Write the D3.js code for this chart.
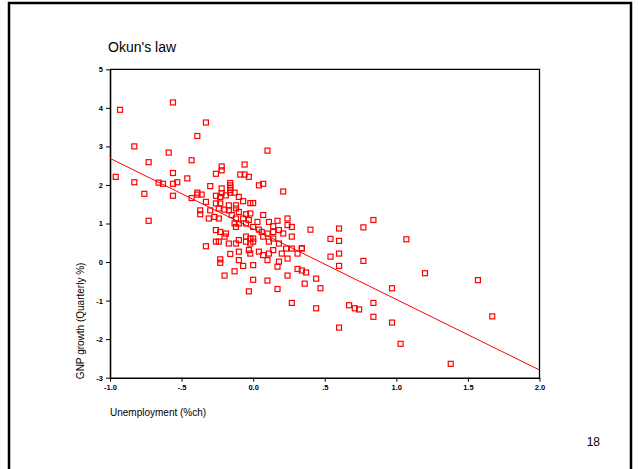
<!DOCTYPE html>
<html>
<head>
<meta charset="utf-8">
<script src="https://cdn.jsdelivr.net/npm/d3@7"></script>
<style>
  html, body { margin: 0; padding: 0; background: #fff; }
  svg { display: block; }
  .tick text { font-family: "Liberation Sans", Arial, sans-serif; font-size: 7.5px; font-weight: bold; fill: #000; }
</style>
</head>
<body>
<svg id="chart" width="639" height="469"></svg>
<script>
// Quarterly change in unemployment (percentage points) vs GNP growth (quarterly %)
const unemploymentChange = [
  -0.93,-0.56,-0.83,-0.59,-0.73,-0.56,-0.96,-0.83,-0.66,-0.63,-0.56,-0.53,-0.76,-0.56,-0.73,-0.46,-0.43,-0.39,-0.33,
  0.10,-0.22,-0.22,-0.06,-0.26,-0.09,-0.06,-0.03,-0.30,-0.16,-0.16,-0.16,-0.16,-0.16,-0.22,-0.22,0.04,0.07,0.21,-0.39,-0.39,-0.36,-0.13,-0.43,-0.23,-0.19,-0.10,-0.26,
  -0.33,-0.26,-0.23,-0.17,-0.12,-0.07,-0.02,0.00,-0.37,-0.37,-0.30,-0.24,-0.20,-0.17,-0.12,-0.10,-0.05,-0.02,0.07,0.24,
  -0.31,-0.27,-0.24,-0.15,-0.12,-0.07,-0.03,0.03,0.11,0.17,0.24,0.27,
  -0.26,-0.23,-0.20,-0.19,-0.13,-0.12,-0.10,-0.05,0.00,0.04,0.06,0.10,0.14,0.14,0.18,0.21,0.27,
  -0.33,-0.26,-0.24,-0.17,-0.12,-0.10,-0.05,-0.02,0.00,-0.05,-0.02,0.00,0.07,0.11,0.14,0.18,0.23,0.27,0.31,0.34,
  -0.16,-0.10,-0.03,-0.02,0.04,0.07,0.11,0.14,0.20,0.24,0.18,
  -0.23,-0.23,-0.10,-0.07,0.00,0.10,0.17,
  -0.20,-0.13,0.00,0.10,-0.03,0.17,0.24,0.31,0.34,0.36,0.27,
  0.84,0.40,0.60,0.77,0.54,0.60,0.60,0.54,0.77,0.60,0.34,0.37,0.44,0.47,0.44,0.67,0.71,0.74,0.84,0.84,0.97,1.07,1.20,1.57,1.67,0.97,1.03,0.60,1.38
];
const gnpGrowth = [
  3.95,4.14,3.00,2.84,2.59,2.31,2.21,2.07,2.06,2.03,2.03,2.07,1.77,1.72,1.07,2.17,2.64,3.27,3.62,
  2.89,2.48,2.38,2.53,2.29,2.27,2.27,2.21,1.97,2.05,1.99,1.93,1.87,1.80,1.91,1.79,1.99,2.03,1.83,1.80,1.75,1.75,1.80,1.66,1.69,1.73,1.69,1.72,
  1.56,1.52,1.52,1.47,1.47,1.58,1.53,1.53,1.34,1.24,1.34,1.39,1.36,1.34,1.39,1.30,1.24,1.26,1.22,1.13,
  1.13,1.17,1.13,1.22,1.13,1.13,1.09,1.04,1.04,1.07,0.96,0.91,
  0.83,0.78,0.66,0.74,1.00,0.91,1.00,1.00,0.91,0.84,0.78,0.74,0.93,0.78,0.83,0.74,0.66,
  0.41,0.53,0.53,0.48,0.48,0.57,0.66,0.61,0.53,0.53,0.48,0.61,0.66,0.53,0.61,0.48,0.35,0.35,0.22,0.35,
  0.21,0.27,0.31,0.22,0.27,0.18,0.22,0.31,0.22,0.09,0.01,
  0.07,-0.02,0.05,-0.10,-0.08,0.05,-0.12,
  -0.35,-0.24,-0.46,-0.48,-0.76,-0.70,-0.35,-0.18,-0.22,-0.56,-1.06,
  1.09,0.84,0.87,0.90,0.60,0.55,0.22,0.14,0.03,-0.10,0.36,-0.27,-0.43,-0.68,-1.20,-1.12,-1.20,-1.23,-1.06,-1.42,-0.68,0.59,-0.29,-0.47,-1.41,-1.57,-2.12,-1.70,-2.64
];

// Fitted regression line, evaluated at the ends of the x range
const fitX = [-1.0, 2.0];
const fitY = [2.69, -2.80];

const xTicks = [-1.0, -0.5, 0.0, 0.5, 1.0, 1.5, 2.0];
const xTickLabels = ["-1.0", "-.5", "0.0", ".5", "1.0", "1.5", "2.0"];
const yTicks = [5, 4, 3, 2, 1, 0, -1, -2, -3];
const yTickLabels = ["5", "4", "3", "2", "1", "0", "-1", "-2", "-3"];

const svg = d3.select("#chart");
const FONT = "'Liberation Sans', Arial, sans-serif";

// slide frame
svg.append("rect")
  .attr("x", 9).attr("y", 3).attr("width", 622).attr("height", 480)
  .attr("fill", "none").attr("stroke", "#000").attr("stroke-width", 2.5);

svg.append("text")
  .attr("x", 108).attr("y", 52)
  .attr("font-family", FONT).attr("font-size", 14)
  .text("Okun's law");

svg.append("text")
  .attr("x", 600).attr("y", 446).attr("text-anchor", "end")
  .attr("font-family", FONT).attr("font-size", 12)
  .text("18");

const x = d3.scaleLinear().domain([-1, 2]).range([110, 539.5]);
const y = d3.scaleLinear().domain([-3, 5]).range([377.7, 69.3]);

// plot box (top and right edges)
svg.append("path")
  .attr("d", `M${x(-1)},${y(5)}H${x(2)}V${y(-3)}`)
  .attr("fill", "none").attr("stroke", "#000").attr("stroke-width", 1.3);

const xAxis = d3.axisBottom(x)
  .tickValues(xTicks)
  .tickFormat((d, i) => xTickLabels[i])
  .tickSizeInner(4).tickSizeOuter(0).tickPadding(3);
const gx = svg.append("g").attr("transform", `translate(0,${y(-3)})`).call(xAxis);

const yAxis = d3.axisLeft(y)
  .tickValues(yTicks)
  .tickFormat((d, i) => yTickLabels[i])
  .tickSizeInner(4).tickSizeOuter(0).tickPadding(3);
const gy = svg.append("g").attr("transform", `translate(${x(-1)},0)`).call(yAxis);

[gx, gy].forEach(g => {
  g.select(".domain").attr("stroke", "#000").attr("stroke-width", 1.6);
  g.selectAll(".tick line").attr("stroke", "#000").attr("stroke-width", 1);
});

// axis titles
svg.append("text")
  .attr("x", 110).attr("y", 416)
  .attr("font-family", FONT).attr("font-size", 10)
  .text("Unemployment (%ch)");

svg.append("text")
  .attr("transform", `translate(84,${(y(-3) + y(0)) / 2 + 1}) rotate(-90)`)
  .attr("text-anchor", "middle")
  .attr("font-family", FONT).attr("font-size", 10)
  .text("GNP growth (Quarterly %)");

// regression line
svg.append("line")
  .attr("x1", x(fitX[0])).attr("y1", y(fitY[0]))
  .attr("x2", x(fitX[1])).attr("y2", y(fitY[1]))
  .attr("stroke", "#ff0000").attr("stroke-width", 1);

// observations as hollow squares
const pts = unemploymentChange.map((u, i) => ({ u, g: gnpGrowth[i] }));
const s = 5;
svg.append("g").selectAll("rect")
  .data(pts)
  .join("rect")
  .attr("x", d => x(d.u) - s / 2)
  .attr("y", d => y(d.g) - s / 2)
  .attr("width", s).attr("height", s)
  .attr("fill", "none")
  .attr("stroke", "#ff0000")
  .attr("stroke-width", 1.2);
</script>
</body>
</html>
